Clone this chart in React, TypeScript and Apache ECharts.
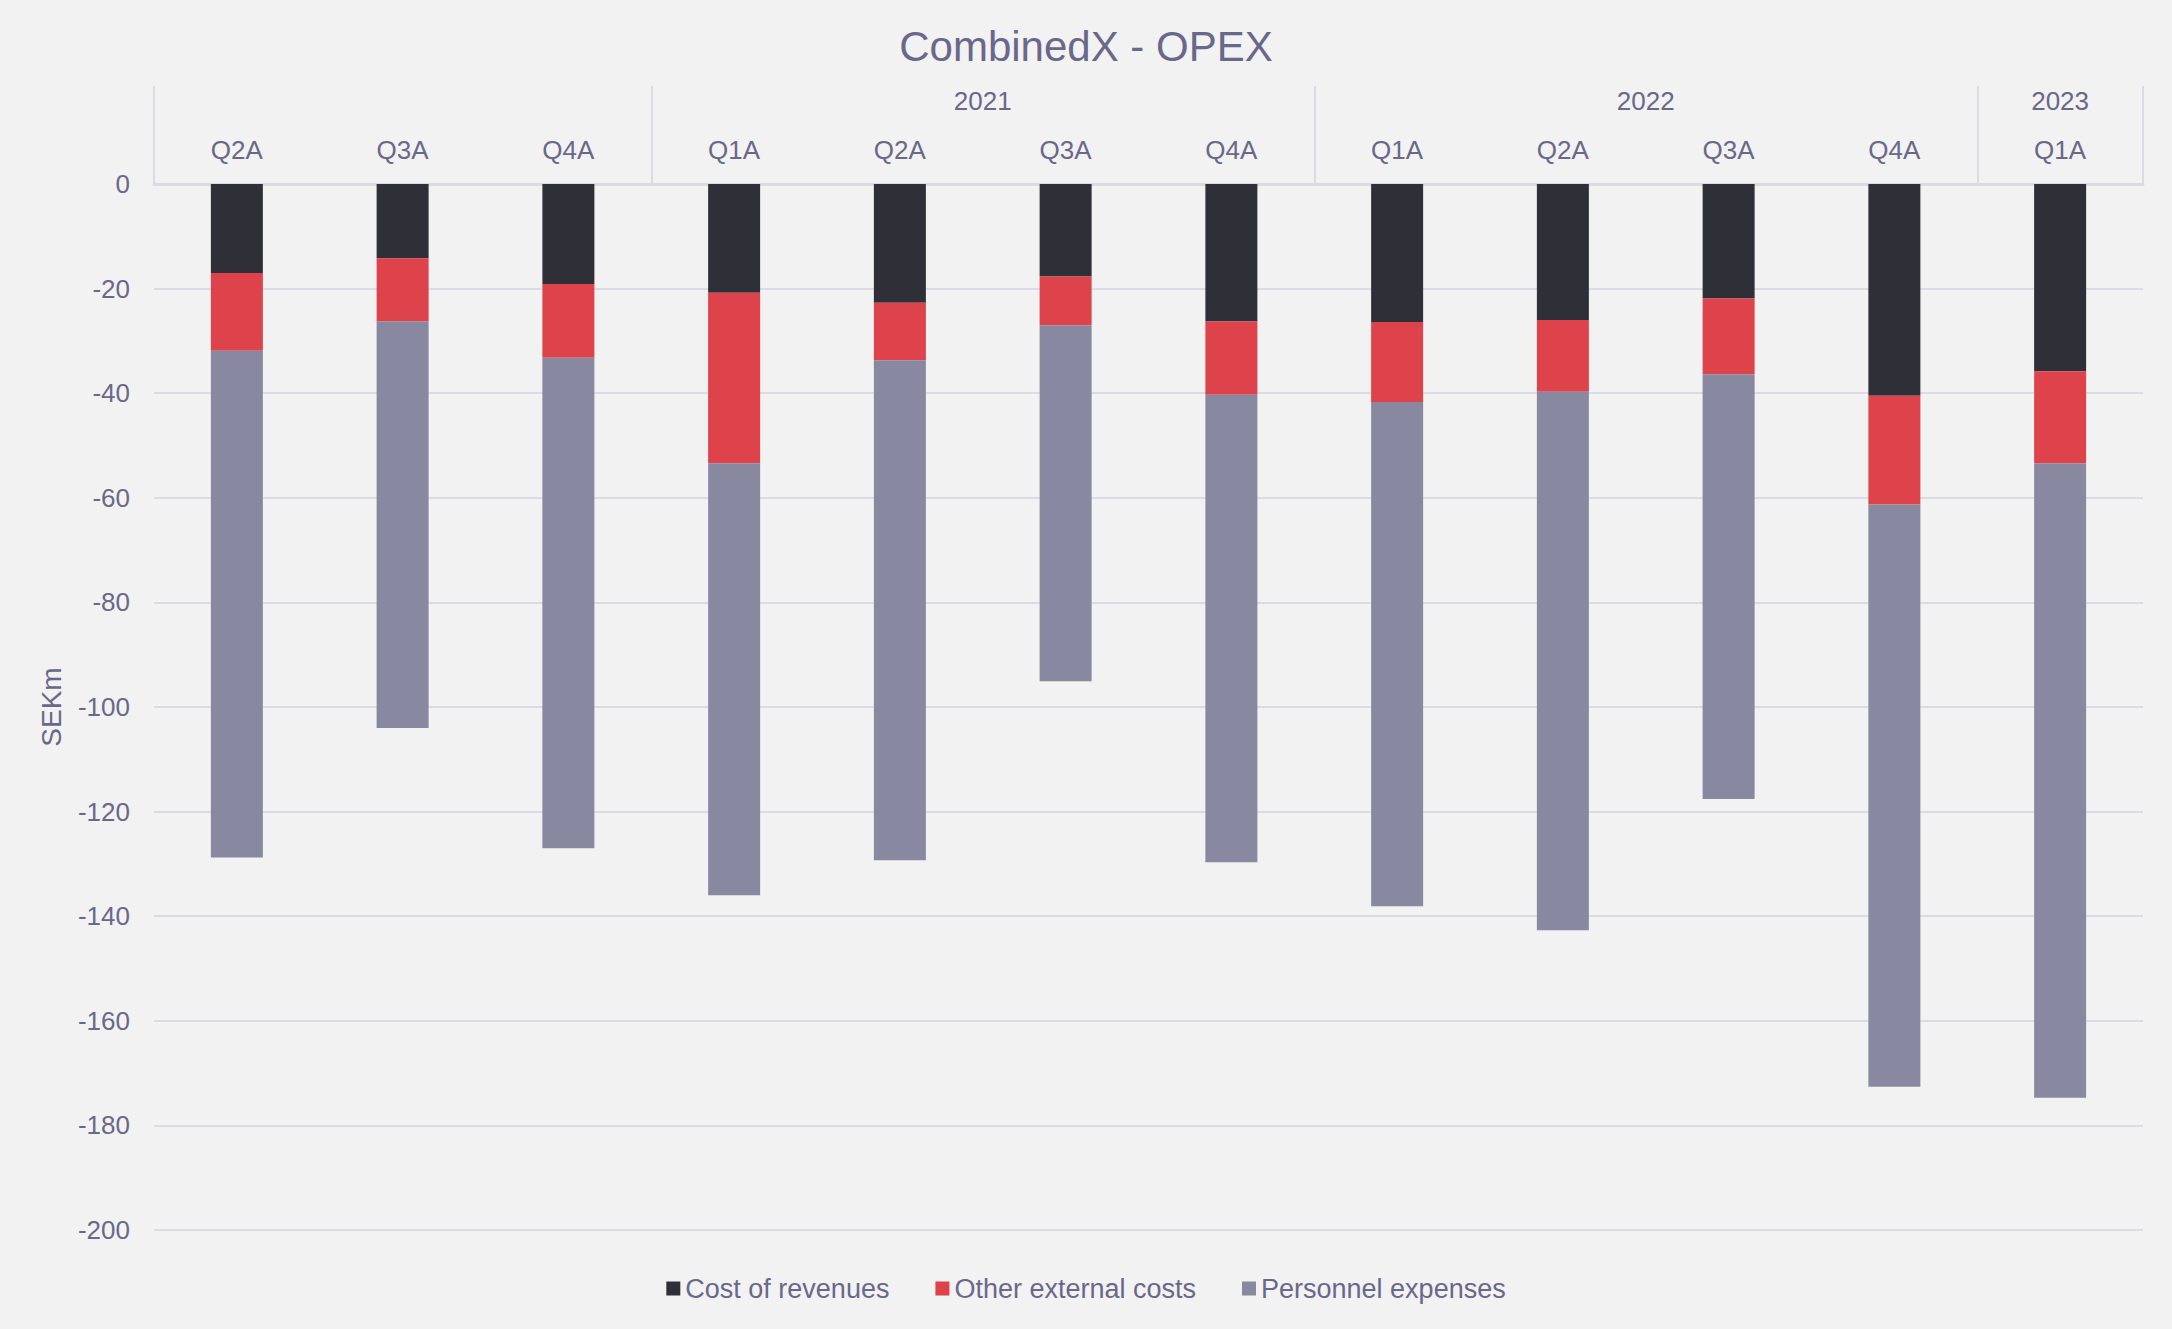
import React, { useEffect, useRef } from "react";
import * as echarts from "echarts";

const quarters = ["Q2A", "Q3A", "Q4A", "Q1A", "Q2A", "Q3A", "Q4A", "Q1A", "Q2A", "Q3A", "Q4A", "Q1A"];
const years = ["", "", "", "2021", "2021", "2021", "2021", "2022", "2022", "2022", "2022", "2023"];
const costOfRevenues = [-17.0, -14.2, -19.1, -20.8, -22.7, -17.7, -26.3, -26.4, -26.0, -21.9, -40.5, -35.8];
const otherExternalCosts = [-14.9, -12.1, -14.1, -32.6, -11.0, -9.3, -14.0, -15.3, -13.7, -14.5, -20.8, -17.6];
const personnelExpenses = [-96.9, -77.7, -93.8, -82.6, -95.6, -68.1, -89.4, -96.4, -103.0, -81.2, -111.3, -121.3];
const yTicks = { min: -200, max: 0, interval: 20 };

const TEXT = "#69688a";
const GRID = "#dcdbe3";
const FONT = "'Liberation Sans', Arial, sans-serif";

export default function App() {
  const ref = useRef<HTMLDivElement>(null);
  useEffect(() => {
    document.body.style.margin = "0";
    const chart = echarts.init(ref.current!, null, { renderer: "svg" });
    const keys = quarters.map((q, i) => `${i}|${q}`);
    const groupCenters: Record<string, string> = {};
    let start = 0;
    for (let i = 1; i <= years.length; i++) {
      if (i === years.length || years[i] !== years[start]) {
        if (years[start]) groupCenters[String((start + i) / 2)] = years[start];
        start = i;
      }
    }
    chart.setOption({
      animation: false,
      backgroundColor: "#f2f2f2",
      textStyle: { fontFamily: FONT },
      title: {
        text: "CombinedX - OPEX",
        left: "center",
        top: 20,
        textStyle: { fontSize: 42, fontWeight: "normal", color: TEXT, fontFamily: FONT },
      },
      legend: {
        bottom: 22,
        left: "center",
        icon: "rect",
        itemWidth: 14,
        itemHeight: 14,
        itemGap: 46,
        textStyle: { fontSize: 27, color: TEXT, fontFamily: FONT },
        data: ["Cost of revenues", "Other external costs", "Personnel expenses"],
      },
      grid: { left: 154, right: 29, top: 184, bottom: 99, containLabel: false },
      xAxis: [
        {
          type: "category",
          position: "top",
          data: keys,
          axisLine: { show: true, lineStyle: { color: GRID, width: 3 } },
          axisTick: {
            show: true,
            interval: (idx: number) => idx === 0 || years[idx] !== years[idx - 1],
            length: 98,
            lineStyle: { color: GRID, width: 2 },
          },
          axisLabel: {
            interval: 0,
            margin: 21,
            fontSize: 26,
            color: TEXT,
            fontFamily: FONT,
            formatter: (v: string) => v.split("|")[1],
          },
          splitLine: { show: false },
        },
        {
          type: "value",
          position: "top",
          min: 0,
          max: quarters.length,
          interval: 0.5,
          axisLine: { show: false },
          axisTick: { show: false },
          splitLine: { show: false },
          axisLabel: {
            margin: 70,
            fontSize: 26,
            color: TEXT,
            fontFamily: FONT,
            showMinLabel: true,
            showMaxLabel: true,
            formatter: (v: number) => groupCenters[String(v)] || "",
          },
        },
      ],
      yAxis: {
        type: "value",
        min: yTicks.min,
        max: yTicks.max,
        interval: yTicks.interval,
        name: "SEKm",
        nameLocation: "middle",
        nameGap: 89,
        nameTextStyle: { fontSize: 28, color: TEXT, fontFamily: FONT },
        axisLine: { show: false },
        axisTick: { show: false },
        axisLabel: { fontSize: 26, color: TEXT, margin: 24, fontFamily: FONT },
        splitLine: { show: true, lineStyle: { color: GRID, width: 2 } },
      },
      series: [
        {
          name: "Cost of revenues",
          type: "bar",
          stack: "total",
          barWidth: 52,
          xAxisIndex: 0,
          itemStyle: { color: "#2f2f38" },
          data: costOfRevenues,
        },
        {
          name: "Other external costs",
          type: "bar",
          stack: "total",
          barWidth: 52,
          xAxisIndex: 0,
          itemStyle: { color: "#de424a" },
          data: otherExternalCosts,
        },
        {
          name: "Personnel expenses",
          type: "bar",
          stack: "total",
          barWidth: 52,
          xAxisIndex: 0,
          itemStyle: { color: "#8888a0" },
          data: personnelExpenses,
        },
      ],
    });
    return () => chart.dispose();
  }, []);
  return <div ref={ref} style={{ width: 2172, height: 1329 }} />;
}
